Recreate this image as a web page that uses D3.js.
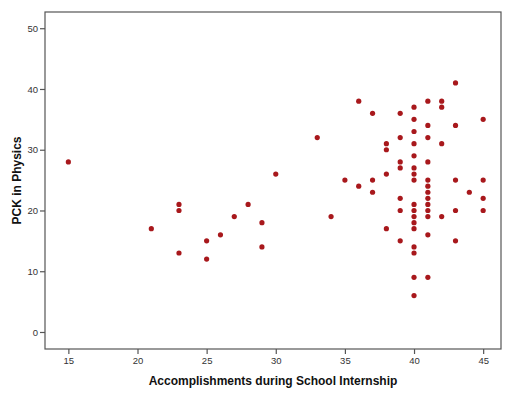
<!DOCTYPE html>
<html>
<head>
<meta charset="utf-8">
<script src="https://cdn.jsdelivr.net/npm/d3@7"></script>
<style>
  html, body { margin: 0; padding: 0; background: #fff; }
  svg { display: block; font-family: "Liberation Sans", Arial, sans-serif; }
</style>
</head>
<body>
<svg id="chart" width="505" height="394"></svg>
<script>
// Accomplishments during School Internship (x) vs PCK in Physics (y)
const accomplishments = [
  15, 21, 23, 23, 23, 25, 25, 26, 27, 28, 29, 29, 30,
  33, 34, 35, 36, 36, 37, 37, 37,
  38, 38, 38, 38,
  39, 39, 39, 39, 39, 39, 39,
  40, 40, 40, 40, 40, 40, 40, 40, 40, 40, 40, 40, 40, 40, 40, 40, 40,
  41, 41, 41, 41, 41, 41, 41, 41, 41, 41, 41, 41, 41,
  42, 42, 42, 42,
  43, 43, 43, 43, 43,
  44,
  45, 45, 45, 45
];
const pckPhysics = [
  28, 17, 21, 20, 13, 15, 12, 16, 19, 21, 18, 14, 26,
  32, 19, 25, 38, 24, 36, 25, 23,
  31, 30, 26, 17,
  36, 32, 28, 27, 22, 20, 15,
  37, 35, 33, 31, 29, 27, 26, 25, 21, 20, 19, 18, 17, 14, 13, 9, 6,
  38, 34, 32, 28, 25, 24, 23, 22, 21, 20, 19, 16, 9,
  38, 37, 31, 19,
  41, 34, 25, 20, 15,
  23,
  35, 25, 22, 20
];
const xTicks = [15, 20, 25, 30, 35, 40, 45];
const yTicks = [0, 10, 20, 30, 40, 50];

const svg = d3.select("#chart");
const plotL = 45, plotR = 501, plotT = 12, plotB = 349;

const x = d3.scaleLinear().domain([13.31, 46.29]).range([plotL, plotR]);
const y = d3.scaleLinear().domain([-2.8, 52.67]).range([plotB, plotT]);

const axisColor = "#555";

// frame
svg.append("rect")
  .attr("x", plotL).attr("y", plotT)
  .attr("width", plotR - plotL).attr("height", plotB - plotT)
  .attr("fill", "none").attr("stroke", axisColor).attr("stroke-width", 1.2);

// x axis
const gx = svg.append("g")
  .attr("transform", `translate(0,${plotB})`)
  .call(d3.axisBottom(x).tickValues(xTicks).tickSize(5).tickPadding(3).tickFormat(d3.format("d")));
gx.select(".domain").remove();
gx.selectAll(".tick line").attr("stroke", axisColor).attr("stroke-width", 1.2);
gx.selectAll(".tick text").attr("fill", "#333").style("font-size", "9.5px");

// y axis
const gy = svg.append("g")
  .attr("transform", `translate(${plotL},0)`)
  .call(d3.axisLeft(y).tickValues(yTicks).tickSize(5).tickPadding(2).tickFormat(d3.format("d")));
gy.select(".domain").remove();
gy.selectAll(".tick line").attr("stroke", axisColor).attr("stroke-width", 1.2);
gy.selectAll(".tick text").attr("fill", "#333").style("font-size", "9.5px");

// axis titles
svg.append("text")
  .attr("x", (plotL + plotR) / 2).attr("y", 385)
  .attr("text-anchor", "middle")
  .style("font-size", "12px").style("font-weight", "bold").attr("fill", "#111")
  .text("Accomplishments during School Internship");

svg.append("text")
  .attr("transform", `translate(21,${(plotT + plotB) / 2}) rotate(-90)`)
  .attr("text-anchor", "middle")
  .style("font-size", "12px").style("font-weight", "bold").attr("fill", "#111")
  .text("PCK in Physics");

// points
svg.append("g")
  .selectAll("circle")
  .data(accomplishments.map((a, i) => ({ a, p: pckPhysics[i] })))
  .join("circle")
  .attr("cx", d => x(d.a))
  .attr("cy", d => y(d.p))
  .attr("r", 2.6)
  .attr("fill", "#a8181c");
</script>
</body>
</html>
